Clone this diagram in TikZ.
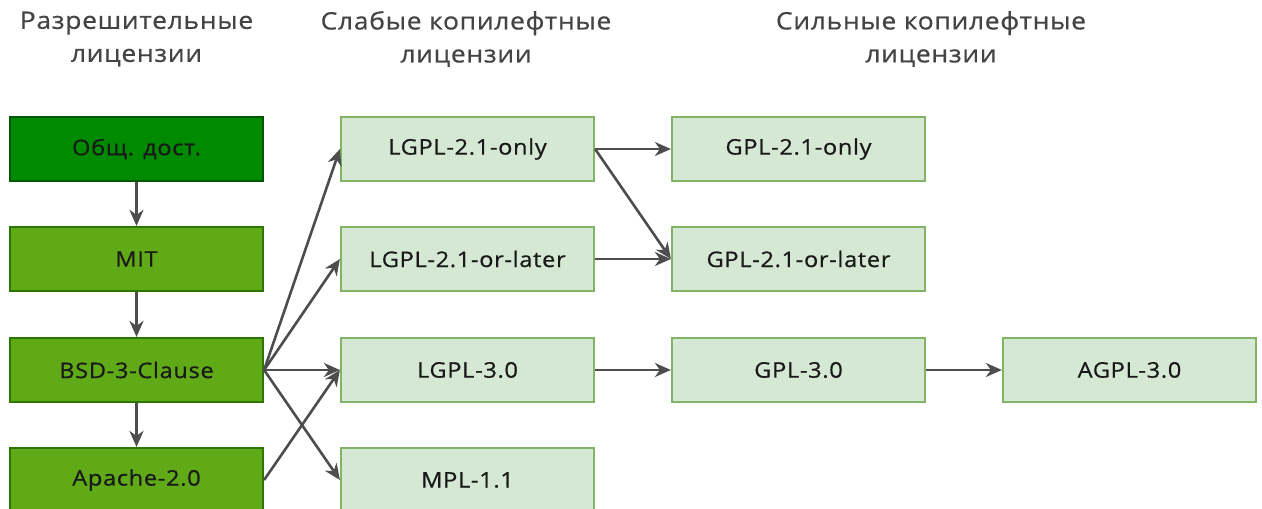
\documentclass[tikz,border=0pt]{standalone}
\usepackage{fontspec}
\setmainfont{Open Sans}[FakeStretch=1.1, LetterSpace=3, FakeBold=0.6]
\usetikzlibrary{arrows.meta}
\definecolor{darkg}{HTML}{008A00}
\definecolor{darkgb}{HTML}{005700}
\definecolor{midg}{HTML}{60A917}
\definecolor{midgb}{HTML}{2D7600}
\definecolor{lightg}{HTML}{D5E8D4}
\definecolor{lightgb}{HTML}{82B366}
\definecolor{arr}{HTML}{4D4D4D}
\definecolor{hdr}{HTML}{444444}
\begin{document}
\begin{tikzpicture}[x=1pt,y=-1pt,
  box/.style={rectangle, minimum width=253pt, minimum height=64pt, line width=2.2pt, inner sep=0pt,
     font=\fontsize{21.5}{25}\selectfont, text=black!90},
  permtop/.style={box, fill=darkg, draw=darkgb},
  perm/.style={box, fill=midg, draw=midgb},
  weak/.style={box, fill=lightg, draw=lightgb},
  hdrtext/.style={align=center, text=hdr, font=\fontsize{24}{33}\selectfont},
  conn/.style={draw=arr, line width=2.6pt, -{Stealth[length=16pt,width=14pt,inset=5pt]}}
]
\clip (0,0) rectangle (1262,509);
\fill[white] (0,0) rectangle (1262,509);
\node[hdrtext] (h1) at (136.5,39) {Разрешительные\\лицензии};
\node[hdrtext] (h2) at (466,39) {Слабые копилефтные\\лицензии};
\node[hdrtext] (h3) at (931,39) {Сильные копилефтные\\лицензии};

\node[permtop] (pd) at (136.5,149) {Общ. дост.};
\node[perm] (mit) at (136.5,259) {MIT};
\node[perm] (bsd) at (136.5,370) {BSD-3-Clause};
\node[perm] (apache) at (136.5,480) {Apache-2.0};

\node[weak] (lo) at (467.5,149) {LGPL-2.1-only};
\node[weak] (ll) at (467.5,259) {LGPL-2.1-or-later};
\node[weak] (l3) at (467.5,370) {LGPL-3.0};
\node[weak] (mpl) at (467.5,480) {MPL-1.1};

\node[weak] (go) at (798.5,149) {GPL-2.1-only};
\node[weak] (gl) at (798.5,259) {GPL-2.1-or-later};
\node[weak] (g3) at (798.5,370) {GPL-3.0};
\node[weak] (ag) at (1129.5,370) {AGPL-3.0};

\draw[conn] (pd.south) -- (mit.north);
\draw[conn] (mit.south) -- (bsd.north);
\draw[conn] (bsd.south) -- (apache.north);
\draw[conn] (bsd.east) -- (lo.west);
\draw[conn] (bsd.east) -- (ll.west);
\draw[conn] (bsd.east) -- (l3.west);
\draw[conn] (bsd.east) -- (mpl.west);
\draw[conn] (apache.east) -- (l3.west);
\draw[conn] (lo.east) -- (go.west);
\draw[conn] (lo.east) -- (gl.west);
\draw[conn] (ll.east) -- (gl.west);
\draw[conn] (l3.east) -- (g3.west);
\draw[conn] (g3.east) -- (ag.west);
\end{tikzpicture}
\end{document}
